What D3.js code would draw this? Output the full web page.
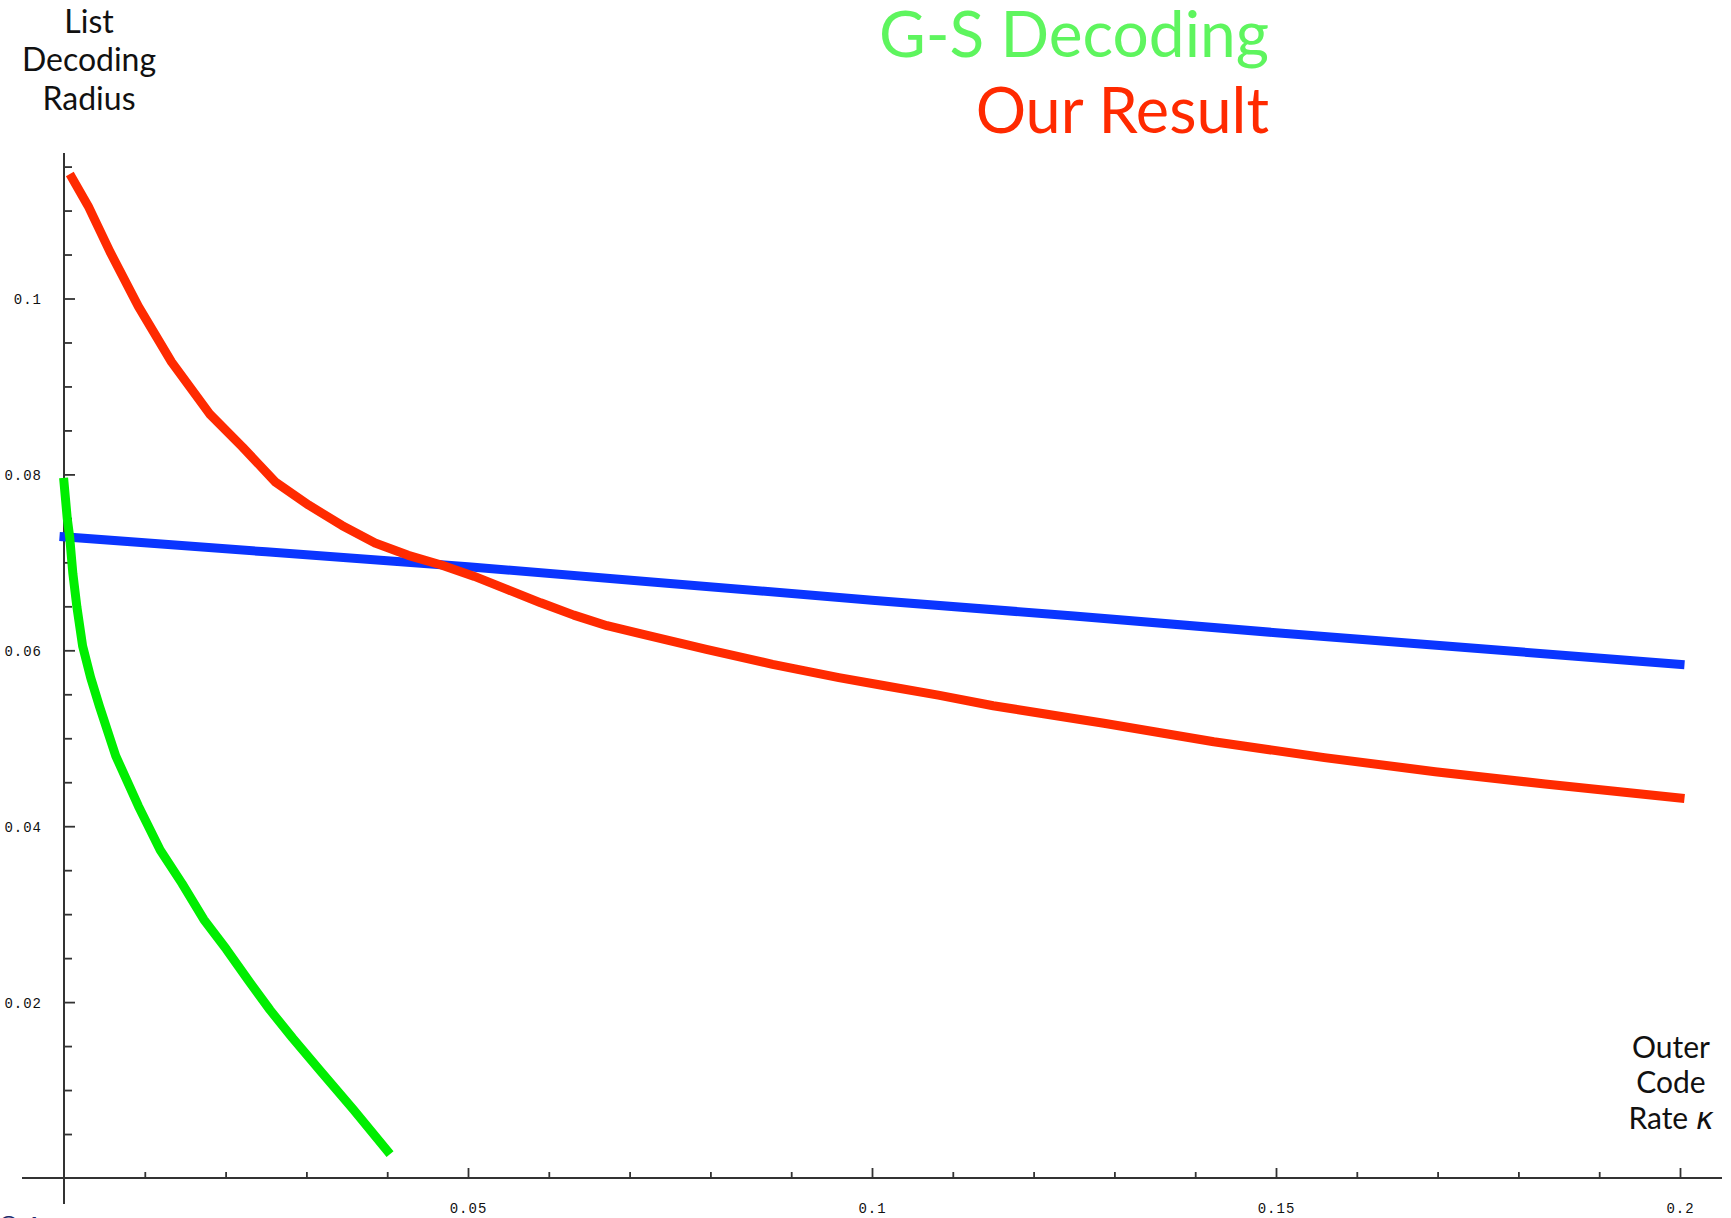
<!DOCTYPE html>
<html>
<head>
<meta charset="utf-8">
<script src="https://cdn.jsdelivr.net/npm/d3@7/dist/d3.min.js"></script>
<style>
  html, body { margin: 0; padding: 0; background: #fff; }
  svg { display: block; }
</style>
</head>
<body>
<script>
// Outer code rate κ (x) versus list decoding radius (y)
const blueRate   = [0, 0.025, 0.05, 0.075, 0.1, 0.125, 0.15, 0.175, 0.2];
const blueRadius = [0.0729, 0.0712, 0.0695, 0.0676, 0.0657, 0.0639, 0.0620, 0.0602, 0.0584];

const redRate   = [0.001, 0.003, 0.0057, 0.0092, 0.0133, 0.018, 0.0221, 0.0262, 0.0303, 0.0344, 0.0385,
                   0.0426, 0.0467, 0.0508, 0.0549, 0.059, 0.0631, 0.0672, 0.0713, 0.0795, 0.0877,
                   0.0959, 0.1014, 0.1082, 0.115, 0.1287, 0.1423, 0.156, 0.1697, 0.1833, 0.2];
const redRadius = [0.1137, 0.1105, 0.1053, 0.0991, 0.0928, 0.0869, 0.0831, 0.0791, 0.0765, 0.0742, 0.0722,
                   0.0708, 0.0697, 0.0684, 0.0669, 0.0654, 0.0640, 0.0628, 0.0619, 0.0601, 0.0584,
                   0.0569, 0.0560, 0.0549, 0.0537, 0.0517, 0.0496, 0.0478, 0.0462, 0.0448, 0.0432];

const greenRate   = [0, 0.0004, 0.0007, 0.0011, 0.0016, 0.0023, 0.0033, 0.0044, 0.0064, 0.0092, 0.0119,
                     0.0146, 0.0173, 0.0201, 0.0228, 0.0255, 0.0283, 0.0317, 0.0358, 0.04];
const greenRadius = [0.0791, 0.075, 0.0729, 0.0687, 0.0649, 0.0605, 0.0569, 0.0536, 0.048, 0.0423, 0.0373,
                     0.0335, 0.0294, 0.026, 0.0225, 0.0191, 0.0159, 0.0122, 0.0078, 0.0031];

const xMajorTicks = [0.05, 0.1, 0.15, 0.2];
const xTickLabels = ["0.05", "0.1", "0.15", "0.2"];
const xMinorTicks = [0.01, 0.02, 0.03, 0.04, 0.06, 0.07, 0.08, 0.09, 0.11, 0.12, 0.13, 0.14,
                     0.16, 0.17, 0.18, 0.19];
const yMajorTicks = [0.02, 0.04, 0.06, 0.08, 0.1];
const yTickLabels = ["0.02", "0.04", "0.06", "0.08", "0.1"];
const yMinorTicks = [0.005, 0.01, 0.015, 0.025, 0.03, 0.035, 0.045, 0.05, 0.055, 0.065, 0.07, 0.075,
                     0.085, 0.09, 0.095, 0.105, 0.11, 0.115];

const W = 1731, H = 1218;
const svg = d3.select("body").append("svg").attr("width", W).attr("height", H);

const x = d3.scaleLinear().domain([0, 0.2]).range([64, 1680]);
const y = d3.scaleLinear().domain([0, 0.1]).range([1178, 298.5]);

const axisColor = "#333";
const tickFont = "'Liberation Mono', 'DejaVu Sans Mono', monospace";

// Axis lines (extend past the data range)
svg.append("line").attr("x1", 22).attr("x2", 1722).attr("y1", y(0)).attr("y2", y(0))
  .attr("stroke", axisColor).attr("stroke-width", 2);
svg.append("line").attr("x1", x(0)).attr("x2", x(0)).attr("y1", 153).attr("y2", 1204)
  .attr("stroke", axisColor).attr("stroke-width", 2);

function styleAxis(g) {
  g.select(".domain").remove();
  g.selectAll(".tick line").attr("stroke", axisColor).attr("stroke-width", 1.8);
  g.selectAll(".tick text").attr("fill", "#111").attr("font-family", tickFont)
    .attr("font-size", 14).attr("letter-spacing", "1px");
}

// X axis: ticks point up into the plot
svg.append("g").attr("transform", `translate(0,${y(0)})`)
  .call(d3.axisBottom(x).tickValues(xMinorTicks).tickSize(-6).tickFormat(""))
  .call(styleAxis);
svg.append("g").attr("transform", `translate(0,${y(0)})`)
  .call(d3.axisBottom(x).tickValues(xMajorTicks).tickSize(-10).tickPadding(0)
    .tickFormat((d, i) => xTickLabels[i]))
  .call(styleAxis)
  .call(g => g.selectAll(".tick text").attr("y", 35).attr("dy", 0));

// Y axis: ticks point right into the plot
svg.append("g").attr("transform", `translate(${x(0)},0)`)
  .call(d3.axisLeft(y).tickValues(yMinorTicks).tickSize(-8).tickFormat(""))
  .call(styleAxis);
svg.append("g").attr("transform", `translate(${x(0)},0)`)
  .call(d3.axisLeft(y).tickValues(yMajorTicks).tickSize(-11).tickPadding(0)
    .tickFormat((d, i) => yTickLabels[i]))
  .call(styleAxis)
  .call(g => g.selectAll(".tick text").attr("x", -22).attr("dy", "0.35em"));

// Curves
const line = d3.line().x(d => x(d[0])).y(d => y(d[1]));
const series = [
  { rate: blueRate,  radius: blueRadius,  color: "#0a35ff" },
  { rate: redRate,   radius: redRadius,   color: "#ff2a00" },
  { rate: greenRate, radius: greenRadius, color: "#00ee00" }
];
series.forEach(s => {
  svg.append("path")
    .datum(s.rate.map((r, i) => [r, s.radius[i]]))
    .attr("d", line)
    .attr("fill", "none")
    .attr("stroke", s.color)
    .attr("stroke-width", 9)
    .attr("stroke-linecap", "square")
    .attr("stroke-linejoin", "round");
});

// Axis captions
const labelFont = "Lato, 'Open Sans', sans-serif";
const yLabel = ["List", "Decoding", "Radius"];
const yLabelBase = [33, 71, 110];
yLabel.forEach((t, i) => {
  svg.append("text").attr("x", 89).attr("y", yLabelBase[i]).attr("text-anchor", "middle")
    .attr("font-family", labelFont).attr("font-size", 32).attr("fill", "#111").text(t);
});

const xLabelBase = [1058, 1093, 1129];
["Outer", "Code"].forEach((t, i) => {
  svg.append("text").attr("x", 1671).attr("y", xLabelBase[i]).attr("text-anchor", "middle")
    .attr("font-family", labelFont).attr("font-size", 30).attr("fill", "#111").text(t);
});
const rateLabel = svg.append("text").attr("x", 1671).attr("y", xLabelBase[2]).attr("text-anchor", "middle")
  .attr("font-family", labelFont).attr("font-size", 30).attr("fill", "#111");
rateLabel.append("tspan").text("Rate ");
rateLabel.append("tspan").attr("font-style", "italic").attr("font-family", "'DejaVu Sans', sans-serif")
  .text("κ");

// Legend titles
svg.append("text").attr("x", 1269).attr("y", 57).attr("text-anchor", "end")
  .attr("font-family", labelFont).attr("font-size", 64).attr("fill", "#5ef55e").text("G-S Decoding");
svg.append("text").attr("x", 1269).attr("y", 133).attr("text-anchor", "end")
  .attr("font-family", labelFont).attr("font-size", 63).attr("fill", "#ff2a00").text("Our Result");

// Footer fragment at the bottom edge
svg.append("text").attr("x", -2).attr("y", 1236)
  .attr("font-family", labelFont).attr("font-size", 26).attr("font-weight", "bold")
  .attr("fill", "#1a2a6c").text("© 1");
</script>
</body>
</html>
